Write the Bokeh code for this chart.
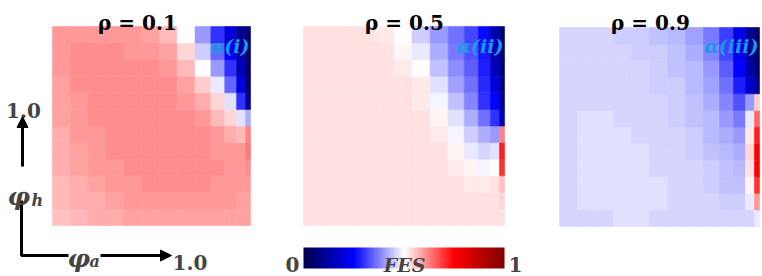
import numpy as np
from bokeh.plotting import figure
from bokeh.models import (Range1d, ColumnDataSource, LinearColorMapper, ColorBar,
                          Label, Arrow, NormalHead, FixedTicker)
from bokeh.transform import transform
from bokeh.embed import file_html
from bokeh.resources import INLINE

# ---------------- data ----------------
RHO_TITLES = ["ρ = 0.1", "ρ = 0.5", "ρ = 0.9"]
ALPHA_LABELS = ["α(i)", "α(ii)", "α(iii)"]
AXIS_TICK = "1.0"
CBAR_LOW_LABEL = "0"
CBAR_HIGH_LABEL = "1"
CBAR_TITLE = "FES"

# cell edges (phi_a along x, phi_h along y), fraction of the unit square
X_EDGES = [0.0, 0.09, 0.18, 0.27, 0.36, 0.45, 0.54, 0.63, 0.72, 0.80, 0.87, 0.93, 0.975, 1.0]
Y_EDGES = [0.0, 0.0833, 0.1667, 0.25, 0.3333, 0.4167, 0.5, 0.5833, 0.6667, 0.75, 0.8333, 0.9167, 1.0]

# FES values, rows listed from top (phi_h = 1) to bottom (phi_h = 0)
FES_RHO_01 = [
    [.60, .60, .60, .60, .60, .59, .57, .50, .40, .30, .20, .10, .05],
    [.60, .61, .61, .61, .60, .60, .59, .54, .45, .35, .25, .12, .05],
    [.60, .61, .61, .61, .61, .61, .60, .57, .50, .40, .30, .15, .05],
    [.59, .61, .61, .61, .61, .61, .61, .59, .55, .48, .35, .20, .05],
    [.59, .60, .61, .61, .61, .61, .61, .60, .58, .54, .47, .30, .10],
    [.59, .60, .61, .61, .61, .61, .61, .61, .60, .57, .54, .47, .42],
    [.58, .60, .60, .61, .61, .61, .61, .61, .61, .60, .58, .57, .62],
    [.58, .59, .60, .61, .61, .61, .61, .61, .61, .60, .60, .60, .63],
    [.58, .59, .60, .60, .61, .61, .61, .61, .61, .61, .60, .60, .61],
    [.57, .58, .59, .60, .60, .61, .61, .61, .61, .60, .60, .60, .60],
    [.57, .58, .58, .59, .60, .60, .60, .60, .60, .60, .60, .59, .59],
    [.56, .57, .58, .58, .59, .59, .59, .59, .59, .59, .59, .59, .59],
]
FES_RHO_05 = [
    [.53, .53, .53, .53, .52, .50, .45, .40, .36, .32, .26, .14, .06],
    [.53, .53, .53, .53, .53, .51, .48, .42, .37, .33, .27, .15, .06],
    [.53, .53, .53, .53, .53, .52, .50, .44, .39, .34, .28, .16, .06],
    [.53, .53, .53, .53, .53, .53, .52, .47, .41, .36, .29, .20, .08],
    [.53, .53, .53, .53, .53, .53, .52, .49, .44, .38, .30, .25, .10],
    [.53, .53, .53, .53, .53, .53, .53, .51, .47, .42, .36, .30, .15],
    [.53, .53, .53, .53, .53, .53, .53, .52, .49, .45, .42, .40, .62],
    [.53, .53, .53, .53, .53, .53, .53, .53, .51, .48, .46, .47, .72],
    [.53, .53, .53, .53, .53, .53, .53, .53, .52, .51, .49, .50, .70],
    [.53, .53, .53, .53, .53, .53, .53, .53, .53, .52, .52, .53, .56],
    [.53, .53, .53, .53, .53, .53, .53, .53, .53, .53, .53, .53, .54],
    [.53, .53, .53, .53, .53, .53, .53, .53, .53, .53, .53, .53, .53],
]
FES_RHO_09 = [
    [.46, .46, .46, .45, .45, .44, .43, .41, .37, .31, .22, .10, .05],
    [.46, .46, .46, .46, .45, .45, .44, .42, .38, .32, .23, .11, .05],
    [.46, .46, .46, .46, .46, .45, .44, .43, .40, .34, .25, .13, .06],
    [.46, .46, .46, .46, .46, .45, .45, .43, .41, .36, .28, .18, .10],
    [.46, .46, .46, .46, .46, .46, .45, .44, .42, .38, .33, .40, .55],
    [.46, .47, .47, .46, .46, .46, .45, .44, .43, .40, .37, .48, .65],
    [.46, .47, .47, .47, .46, .46, .46, .45, .43, .42, .40, .52, .72],
    [.46, .47, .47, .47, .47, .46, .46, .45, .44, .43, .42, .54, .75],
    [.46, .47, .47, .47, .47, .46, .46, .46, .45, .44, .43, .53, .75],
    [.46, .47, .47, .47, .47, .47, .46, .46, .45, .44, .44, .51, .70],
    [.46, .47, .47, .47, .47, .47, .46, .46, .46, .45, .45, .48, .60],
    [.46, .46, .46, .47, .47, .46, .46, .46, .46, .46, .46, .46, .48],
]
PANEL_DATA = [FES_RHO_01, FES_RHO_05, FES_RHO_09]

# ---------------- style / layout ----------------
def seismic(n=256):
    pos = [0.0, 0.25, 0.5, 0.75, 1.0]
    r = [0.0, 0.0, 1.0, 1.0, 0.5]
    g = [0.0, 0.0, 1.0, 0.0, 0.0]
    b = [0.3, 1.0, 1.0, 0.0, 0.0]
    t = np.linspace(0, 1, n)
    rr, gg, bb = (np.interp(t, pos, c) for c in (r, g, b))
    return ["#%02x%02x%02x" % (int(round(a * 255)), int(round(c * 255)), int(round(d * 255)))
            for a, c, d in zip(rr, gg, bb)]

PALETTE = seismic()
mapper = LinearColorMapper(palette=PALETTE, low=0, high=1)

W, H = 762, 276
# picture-pixel frames of the three heatmaps: (left, right, top, bottom)
FRAMES = [(52, 250, 26, 225), (303, 504, 26, 225), (559, 759, 27, 226)]
TITLE_X = [137, 404, 650]

SERIF = "DejaVu Serif"
ALPHA_COLOR = "#1a9be6"

p = figure(width=W, height=H, output_backend="svg", toolbar_location=None,
           x_range=Range1d(0, W), y_range=Range1d(H, 0),
           x_axis_location=None, y_axis_location=None, min_border=0,
           outline_line_color=None, background_fill_color="white")
p.grid.visible = False

for k, (grid, (x0, x1, y0, y1)) in enumerate(zip(PANEL_DATA, FRAMES)):
    sx = x1 - x0
    sy = y1 - y0
    p.extra_x_ranges[f"x{k}"] = Range1d(-x0 / sx, (W - x0) / sx)
    p.extra_y_ranges[f"y{k}"] = Range1d((y1 - H) / sy, y1 / sy)
    vals = np.flipud(np.array(grid))  # row 0 -> bottom
    L, R, B, T, V = [], [], [], [], []
    for i in range(vals.shape[0]):
        for j in range(vals.shape[1]):
            L.append(X_EDGES[j]); R.append(X_EDGES[j + 1])
            B.append(Y_EDGES[i]); T.append(Y_EDGES[i + 1])
            V.append(vals[i, j])
    src = ColumnDataSource(dict(left=L, right=R, bottom=B, top=T, fes=V))
    p.quad(left="left", right="right", bottom="bottom", top="top", source=src,
           fill_color=transform("fes", mapper), line_color=transform("fes", mapper),
           line_width=0.6, x_range_name=f"x{k}", y_range_name=f"y{k}")

    p.add_layout(Label(x=TITLE_X[k], y=22, text=RHO_TITLES[k], text_align="center",
                       text_baseline="alphabetic", text_font=SERIF, text_font_style="bold",
                       text_font_size="20px", text_color="black"))
    p.add_layout(Label(x=x1 - 1, y=45, text=ALPHA_LABELS[k], text_align="right",
                       text_baseline="alphabetic", text_font=SERIF,
                       text_font_style="bold italic", text_font_size="19px",
                       text_color=ALPHA_COLOR))

# ---- left axis decorations ----
p.add_layout(Label(x=23, y=110, text=AXIS_TICK, text_align="center", text_baseline="alphabetic",
                   text_font=SERIF, text_font_style="bold", text_font_size="20px"))
p.add_layout(Arrow(end=NormalHead(size=11, fill_color="black", line_color="black"),
                   x_start=22, y_start=166, x_end=22, y_end=116, line_width=3, line_color="black"))
p.add_layout(Label(x=7, y=196, text="φ", text_align="left", text_baseline="alphabetic",
                   text_font=SERIF, text_font_style="bold italic", text_font_size="25px"))
p.add_layout(Label(x=31, y=200, text="h", text_align="left", text_baseline="alphabetic",
                   text_font=SERIF, text_font_style="bold italic", text_font_size="16px"))
p.line(x=[21, 21, 68], y=[200, 255, 255], line_width=3, line_color="black")
p.add_layout(Label(x=67, y=258, text="φ", text_align="left", text_baseline="alphabetic",
                   text_font=SERIF, text_font_style="bold italic", text_font_size="25px"))
p.add_layout(Label(x=89, y=261, text="a", text_align="left", text_baseline="alphabetic",
                   text_font=SERIF, text_font_style="bold italic", text_font_size="16px"))
p.add_layout(Arrow(end=NormalHead(size=11, fill_color="black", line_color="black"),
                   x_start=100, y_start=255, x_end=171, y_end=255, line_width=3, line_color="black"))
p.add_layout(Label(x=172, y=262, text=AXIS_TICK, text_align="left", text_baseline="alphabetic",
                   text_font=SERIF, text_font_style="bold", text_font_size="20px"))

# ---- colour bar ----
cb = ColorBar(color_mapper=mapper, orientation="horizontal", location=(303, H - 268),
              width=201, height=21, padding=0, margin=0, ticker=FixedTicker(ticks=[]),
              major_label_text_font_size="0px", major_tick_line_color=None,
              minor_tick_line_color=None, bar_line_color=None, border_line_color=None,
              background_fill_alpha=0)
p.add_layout(cb, "center")
p.add_layout(Label(x=299, y=264, text=CBAR_LOW_LABEL, text_align="right", text_baseline="alphabetic",
                   text_font=SERIF, text_font_style="bold", text_font_size="20px"))
p.add_layout(Label(x=508, y=264, text=CBAR_HIGH_LABEL, text_align="left", text_baseline="alphabetic",
                   text_font=SERIF, text_font_style="bold", text_font_size="20px"))
p.add_layout(Label(x=404, y=264, text=CBAR_TITLE, text_align="center", text_baseline="alphabetic",
                   text_font=SERIF, text_font_style="bold italic", text_font_size="19px"))

open("out.html", "w").write(file_html(p, INLINE))
